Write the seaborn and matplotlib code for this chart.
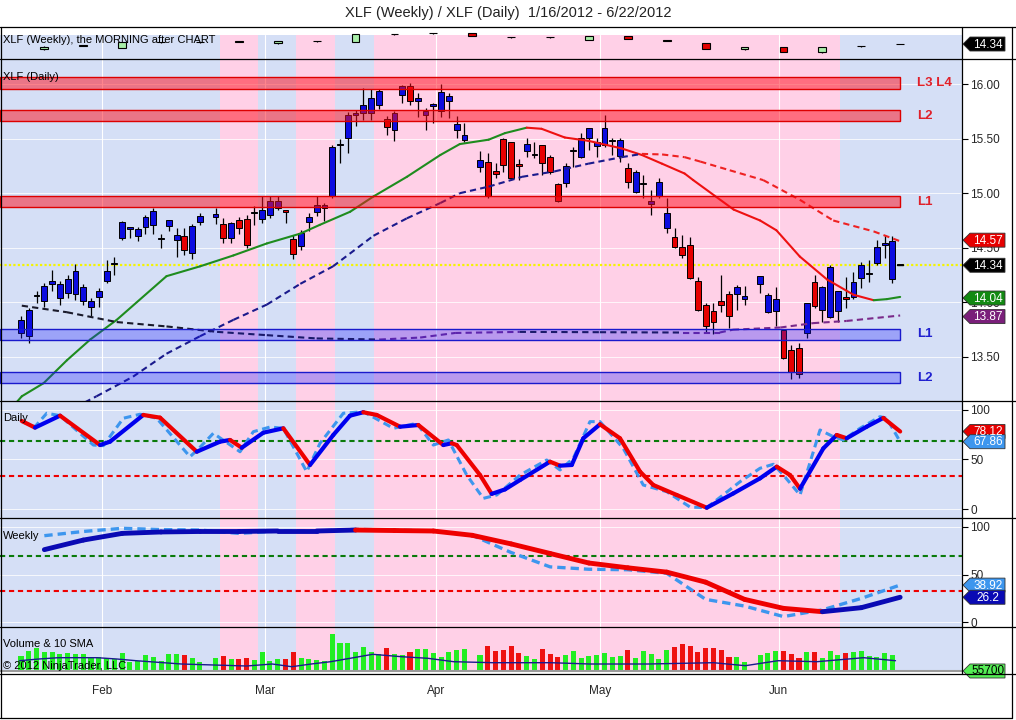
import numpy as np
import pandas as pd
import seaborn as sns
import matplotlib.pyplot as plt
import matplotlib.transforms as mtransforms
from matplotlib.lines import Line2D
from matplotlib.patches import Polygon, Rectangle

sns.set_theme(style="white")
plt.rcParams["font.family"] = ["Liberation Sans", "DejaVu Sans"]

# Every weekday gets a slot on the x axis, market holidays stay empty
weekdays = pd.bdate_range("2012-01-16", "2012-06-22")
holidays = pd.to_datetime(["2012-01-16", "2012-02-20", "2012-04-06", "2012-05-28"])
trade_days = weekdays[~weekdays.isin(holidays)]
day_x = np.array([weekdays.get_loc(d) for d in trade_days], dtype=float)
fridays = weekdays[weekdays.dayofweek == 4]
week_x = np.array([weekdays.get_loc(d) for d in fridays], dtype=float)

# Daily XLF candles
opens = [13.72, 13.69, 14.06, 14.01, 14.17, 14.04, 14.09, 14.08, 14.01, 13.96, 14.05,
         14.20, 14.35, 14.59, 14.67, 14.61, 14.69, 14.71, 14.58, 14.70, 14.57, 14.61, 14.45, 14.74,
         14.78, 14.72, 14.59, 14.75, 14.76, 14.82, 14.76,
         14.80, 14.86, 14.85, 14.58, 14.52, 14.74, 14.83, 14.86, 14.97, 15.44, 15.51, 15.72, 15.73,
         15.73, 15.81, 15.68, 15.58, 15.90, 15.98, 15.84, 15.72, 15.80,
         15.75, 15.84, 15.58, 15.49, 15.24, 15.29, 15.20, 15.50, 15.47, 15.27, 15.39, 15.35, 15.44,
         15.33, 15.08, 15.09, 15.39, 15.33, 15.51, 15.43,
         15.44, 15.48, 15.34, 15.23, 15.01, 15.08, 14.90, 14.97, 14.68, 14.60, 14.51, 14.53, 14.20,
         13.98, 13.92, 14.01, 14.08, 14.08, 14.03, 14.17, 13.91, 13.92,
         13.75, 13.56, 13.58, 13.72, 14.19, 13.93, 13.87, 13.92, 14.05, 14.05, 14.22, 14.26, 14.36,
         14.53, 14.21, 14.34]
highs = [13.88, 13.95, 14.10, 14.18, 14.30, 14.20, 14.25, 14.35, 14.17, 14.04, 14.13,
         14.39, 14.42, 14.75, 14.69, 14.69, 14.80, 14.86, 14.63, 14.75, 14.68, 14.68, 14.72, 14.82,
         14.86, 14.77, 14.74, 14.78, 14.80, 14.88, 14.97,
         14.97, 14.97, 14.85, 14.62, 14.66, 14.82, 14.97, 14.91, 15.44, 15.50, 15.74, 15.76, 15.96,
         15.95, 15.95, 15.71, 15.75, 15.99, 16.01, 15.92, 15.78, 15.83,
         16.00, 15.92, 15.71, 15.64, 15.39, 15.37, 15.28, 15.51, 15.47, 15.31, 15.51, 15.47, 15.44,
         15.35, 15.09, 15.28, 15.42, 15.55, 15.60, 15.51,
         15.72, 15.51, 15.51, 15.28, 15.21, 15.17, 15.03, 15.14, 14.96, 14.68, 14.62, 14.60, 14.23,
         13.99, 13.99, 14.25, 14.10, 14.16, 14.15, 14.24, 14.09, 14.14,
         13.75, 13.61, 13.63, 13.99, 14.25, 14.15, 14.34, 14.10, 14.23, 14.28, 14.37, 14.39, 14.57,
         14.62, 14.61, 14.34]
lows = [13.67, 13.63, 13.99, 13.96, 14.10, 13.98, 14.04, 14.02, 13.98, 13.88, 13.96,
        14.18, 14.25, 14.57, 14.59, 14.56, 14.63, 14.63, 14.50, 14.65, 14.42, 14.43, 14.40, 14.71,
        14.72, 14.54, 14.54, 14.63, 14.50, 14.71, 14.73,
        14.77, 14.85, 14.73, 14.40, 14.48, 14.65, 14.79, 14.75, 14.96, 15.28, 15.37, 15.62, 15.67,
        15.67, 15.77, 15.53, 15.48, 15.83, 15.81, 15.70, 15.58, 15.64,
        15.70, 15.69, 15.51, 15.47, 15.19, 14.96, 15.14, 15.19, 15.12, 15.12, 15.33, 15.32, 15.17,
        15.18, 14.92, 15.06, 15.24, 15.32, 15.40, 15.33,
        15.42, 15.35, 15.29, 15.05, 15.00, 14.96, 14.80, 14.96, 14.64, 14.50, 14.41, 14.21, 13.92,
        13.72, 13.71, 13.91, 13.77, 13.93, 13.98, 14.09, 13.90, 13.78,
        13.48, 13.30, 13.31, 13.67, 13.95, 13.82, 13.86, 13.82, 13.95, 14.03, 14.13, 14.19, 14.34,
        14.41, 14.18, 14.34]
closes = [13.84, 13.93, 14.07, 14.15, 14.20, 14.17, 14.21, 14.29, 14.14, 14.01, 14.10,
          14.29, 14.36, 14.74, 14.69, 14.67, 14.78, 14.84, 14.59, 14.75, 14.62, 14.48, 14.70, 14.79,
          14.81, 14.59, 14.73, 14.68, 14.53, 14.83, 14.85,
          14.93, 14.93, 14.83, 14.44, 14.64, 14.78, 14.89, 14.89, 15.42, 15.45, 15.72, 15.73, 15.81,
          15.87, 15.94, 15.61, 15.73, 15.98, 15.84, 15.87, 15.75, 15.82,
          15.93, 15.89, 15.63, 15.53, 15.30, 14.97, 15.18, 15.26, 15.14, 15.25, 15.45, 15.36, 15.28,
          15.19, 14.93, 15.25, 15.40, 15.51, 15.60, 15.47,
          15.60, 15.49, 15.49, 15.10, 15.19, 15.09, 14.93, 15.10, 14.82, 14.51, 14.43, 14.22, 13.93,
          13.78, 13.82, 13.98, 13.88, 14.14, 14.06, 14.24, 14.07, 14.03,
          13.49, 13.36, 13.34, 13.99, 13.97, 14.14, 14.32, 14.10, 14.03, 14.19, 14.34, 14.27, 14.51,
          14.54, 14.56, 14.34]

# Daily volume, millions of shares
volume = [75, 100, 114, 97, 93, 84, 89, 87, 87, 67, 72,
          67, 58, 92, 47, 52, 80, 72, 52, 84, 84, 80, 67, 47,
          67, 75, 58, 58, 67, 55, 97,
          52, 60, 60, 97, 67, 60, 55, 50, 185, 142, 142, 97, 118, 97, 85, 113, 84, 80, 93, 110, 110, 88,
          72, 93, 105, 108, 80, 125, 100, 105, 125, 90, 75, 60, 110, 85, 70, 80, 100, 65, 75, 80,
          90, 70, 75, 105, 65, 100, 85, 60, 105, 120, 135, 127, 97, 113, 113, 105, 72, 72, 47, 80, 90, 100,
          100, 85, 65, 95, 95, 65, 100, 80, 90, 95, 100, 75, 70, 90, 80, 0.0557]
vol_sma_x = [0.8, 3.3, 5.8, 10.8, 13.3, 15.8, 21.6, 25.8, 30.0, 33.3, 35.8, 38.3, 40.8, 43.3,
             46.2, 49.9, 53.3, 56.6, 61.6, 69.1, 74.1, 81.6, 90.0, 94.1, 98.3, 103.3, 109.3, 113.4]
vol_sma = [51.5, 60, 66.5, 66.5, 60, 51.5, 35, 30, 25, 35, 21.5, 35, 46.5, 63.5,
           83.5, 71.5, 63.5, 46.5, 41.5, 41.5, 35, 35, 41.5, 26.5, 51.5, 46.5, 66.5, 51.5]

# Weekly candles (mini panel at the top)
wk_open = [13.63, 14.10, 13.85, 14.58, 14.55, 14.68, 14.43, 14.72, 14.65, 15.66, 15.76, 15.77,
           15.25, 15.23, 14.87, 15.41, 14.79, 14.51, 13.63, 13.98, 13.23, 14.07, 14.30]
wk_high = [14.02, 14.15, 14.60, 14.62, 14.60, 14.70, 14.76, 14.80, 15.66, 15.72, 15.82, 15.80,
           15.28, 15.28, 15.44, 15.44, 14.85, 14.54, 13.96, 14.00, 14.00, 14.09, 14.36]
wk_low = [13.60, 14.05, 13.82, 14.50, 14.48, 14.62, 14.40, 14.60, 14.62, 15.60, 15.72, 15.38,
          15.18, 15.20, 14.85, 14.98, 14.70, 13.64, 13.60, 13.28, 13.20, 13.90, 14.28]
wk_close = [13.98, 14.12, 14.57, 14.55, 14.58, 14.65, 14.74, 14.70, 15.63, 15.68, 15.78, 15.41,
            15.23, 15.25, 15.41, 15.01, 14.77, 13.67, 13.94, 13.31, 13.98, 14.05, 14.32]

# Moving averages on the price panel
ma_fast_x = [0.0, 1.1, 3.9, 6.9, 9.9, 13.3, 19.7, 24.0, 28.3, 32.6, 36.9, 39.4, 43.3, 46.3, 50.6,
             54.9, 57.4, 61.1, 63.2, 66.0, 67.9, 70.9, 73.9, 78.2, 80.8, 83.4, 86.3, 87.4, 92.6,
             96.0, 98.1, 101.1, 104.6, 108.0, 110.6, 112.3, 114.0]
ma_fast = [13.05, 13.14, 13.26, 13.47, 13.66, 13.84, 14.24, 14.33, 14.43, 14.54, 14.63, 14.71,
           14.83, 14.97, 15.15, 15.35, 15.45, 15.49, 15.55, 15.60, 15.59, 15.51, 15.48, 15.41,
           15.35, 15.27, 15.18, 15.12, 14.85, 14.75, 14.66, 14.42, 14.21, 14.07, 14.02, 14.03, 14.05]
ma_mid_x = [8.0, 10.7, 15.4, 19.7, 24.0, 28.3, 32.6, 36.9, 41.1, 46.3, 50.6, 54.9, 57.4, 61.1,
            65.4, 69.6, 73.9, 78.2, 80.8, 83.4, 86.3, 88.3, 92.1, 96.4, 101.1, 105.4, 110.6, 114.0]
ma_mid = [13.04, 13.14, 13.32, 13.53, 13.69, 13.84, 13.98, 14.17, 14.33, 14.61, 14.77, 14.91,
          15.00, 15.06, 15.15, 15.20, 15.27, 15.33, 15.36, 15.355, 15.33, 15.29, 15.21, 15.12,
          14.94, 14.75, 14.65, 14.56]
ma_slow_x = [1.1, 6.9, 13.3, 19.7, 26.2, 32.6, 39.0, 47.1, 52.3, 56.8, 65.1, 75.4, 86.1, 90.8,
             92.5, 98.6, 102.8, 107.1, 114.0]
ma_slow = [13.97, 13.91, 13.82, 13.78, 13.73, 13.70, 13.67, 13.66, 13.678, 13.72, 13.73, 13.727,
           13.724, 13.724, 13.75, 13.77, 13.81, 13.83, 13.88]

# Support / resistance bands (low, high)
red_bands = [(15.95, 16.06, "L3 L4"), (15.66, 15.76, "L2"), (14.87, 14.97, "L1")]
blue_bands = [(13.66, 13.76, "L1"), (13.26, 13.36, "L2")]
last_price = 14.34

# Daily stochastics
std_x = [1.09, 2.80, 6.02, 11.16, 12.44, 16.72, 18.87, 23.59, 26.58, 27.87, 29.37, 32.15, 34.72,
         38.15, 41.14, 43.29, 45.00, 46.72, 49.72, 52.07, 55.28, 56.36, 57.00, 60.00, 61.50,
         63.21, 65.14, 68.99, 70.28, 71.79, 73.28, 75.42, 77.99, 80.57, 82.27, 85.28, 89.14,
         92.56, 95.99, 98.14, 99.85, 101.13, 104.13, 105.85, 107.13, 109.70, 111.84, 114.00]
std_d = [88.7, 82, 94, 64.5, 67.9, 94.7, 92, 57.8, 67.9, 69.6, 61.8, 76.9, 81.3, 44.5, 74.6, 94,
         97.4, 94.7, 82.9, 84.6, 64.5, 66.3, 64.5, 34.4, 15.5, 20, 29.4, 47.8, 43.8, 44.5, 71.3,
         85.3, 71.3, 37.8, 24.4, 14.4, 1.6, 16, 31.1, 42.8, 34.4, 20.7, 61.2, 74.6, 71.3, 82.9,
         91.7, 78.1]
stk_x = [1.09, 2.80, 4.31, 6.02, 10.30, 11.58, 14.15, 16.30, 18.44, 22.72, 23.79, 25.72, 29.15,
         30.86, 33.01, 34.72, 37.72, 39.43, 42.43, 45.00, 48.86, 51.86, 54.00, 55.93, 58.29,
         60.42, 62.15, 65.14, 68.57, 70.28, 71.99, 74.13, 75.42, 78.41, 80.98, 84.00, 86.99,
         89.14, 93.42, 95.99, 97.70, 98.99, 101.13, 103.70, 105.41, 106.70, 108.84, 111.41,
         112.27, 114.00]
stk_k = [88, 83, 96.4, 94, 64.5, 63.9, 91.4, 95.4, 91.4, 52.8, 60.5, 76.3, 57.8, 77.9, 82.6,
         81.3, 37.8, 66.3, 96.4, 98, 81.3, 86.3, 64.5, 69.6, 34.4, 11, 14.4, 34.4, 49.5, 39.5,
         51.2, 88, 88, 61.2, 24.4, 17.7, 2.3, 1.6, 27.7, 41.2, 45.2, 34.4, 14.4, 79.6, 72.9, 69.6,
         81.3, 93, 91.4, 67.9]

# Weekly stochastics, one value per week
wst_d = [76, 86, 93, 94.5, 95, 95, 95.5, 95.5, 96.5, 96, 95.5, 91, 82, 72, 62, 57, 52.5, 42, 24,
         14.6, 11.1, 15.3, 26.2]
wst_k = [90.6, 95, 98.3, 97, 96.5, 93, 95.5, 95.5, 97.3, 96.5, 95.5, 91, 73, 58, 55.5, 55, 51.3,
         24, 17, 6, 13, 25, 39]
stoch_high, stoch_low = 69, 33

# shading of the background by week (weekday slots)
pink_spans = [(26.6, 31.5), (36.4, 41.4), (46.4, 106.3)]
BLUE_BG = "#d5dff6"
PINK_BG = "#ffd0e7"
UP_BLUE = "#0c0ce0"
DOWN_RED = "#e60000"

W, H = 1016, 720
XMIN, XMAX = -1.70, 121.95
fig = plt.figure(figsize=(W / 100, H / 100), dpi=100)
fig.patch.set_facecolor("white")


def add_panel(top, bottom):
    ax = fig.add_axes([0, 1 - bottom / H, 962 / W, (bottom - top) / H])
    ax.set_xlim(XMIN, XMAX)
    for s in ax.spines.values():
        s.set_visible(False)
    ax.set_xticks([])
    ax.tick_params(axis="y", left=False, labelleft=False, right=True, labelright=True,
                   length=4, width=0.8, color="black", direction="out", pad=2, labelsize=8.5)
    return ax


def shade(ax, ymin=0.0, ymax=1.0):
    ax.set_facecolor("white")
    ax.axvspan(XMIN, XMAX, ymin=ymin, ymax=ymax, color=BLUE_BG, lw=0, zorder=0)
    for a, b in pink_spans:
        ax.axvspan(a, b, ymin=ymin, ymax=ymax, color=PINK_BG, lw=0, zorder=0.1)


def slope_line(ax, xs, ys, up, down, lw, dash=None, z=4):
    for i in range(len(xs) - 1):
        c = up if ys[i + 1] >= ys[i] else down
        ln, = ax.plot(xs[i:i + 2], ys[i:i + 2], color=c, lw=lw, zorder=z,
                      solid_capstyle="round", dash_capstyle="butt")
        if dash:
            ln.set_dashes(dash)


def add_tag(ax, value, text, fc, tc="white"):
    anchor = mtransforms.ScaledTranslation(1.0, value, ax.get_yaxis_transform())
    verts = [(1, 0), (8, 7), (43, 7), (43, -7), (8, -7)]
    ax.add_patch(Polygon(verts, closed=True, transform=anchor, fc=fc, ec="#333333", lw=0.6,
                         clip_on=False, zorder=20))
    ax.text(26, -0.5, text, transform=anchor, ha="center", va="center", color=tc,
            fontsize=8.5, clip_on=False, zorder=21)


def candles(ax, xs, o, h, l, c, width, up, down, z=3):
    o, h, l, c = map(np.asarray, (o, h, l, c))
    ax.vlines(xs, l, h, color="black", lw=0.9, zorder=z)
    body_lo = np.minimum(o, c)
    body_h = np.maximum(np.abs(c - o), 0.008)
    cols = [up if cc >= oo else down for oo, cc in zip(o, c)]
    ax.bar(xs, body_h, bottom=body_lo, width=width, color=cols, edgecolor="black",
           linewidth=0.7, zorder=z + 0.1)


month_starts = [trade_days[trade_days.month == m][0] for m in [2, 3, 4, 5, 6]]
month_x = [weekdays.get_loc(d) - 0.6 for d in month_starts]
month_labels = ["Feb", "Mar", "Apr", "May", "Jun"]

# ---- weekly mini panel ----
ax_w = add_panel(27, 59)
shade(ax_w, ymax=0.75)
ax_w.set_ylim(12.34, 16.61)
ax_w.set_yticks([])
for mx in month_x:
    ax_w.axvline(mx, ymax=0.75, color="white", lw=0.8, zorder=0.5)
wk_cols = ["#a8eea8" if c >= o else DOWN_RED for o, c in zip(wk_open, wk_close)]
ax_w.vlines(week_x, wk_low, wk_high, color="black", lw=0.9, zorder=3)
ax_w.bar(week_x, np.maximum(np.abs(np.array(wk_close) - np.array(wk_open)), 0.06),
         bottom=np.minimum(wk_open, wk_close), width=1.0, color=wk_cols, edgecolor="black",
         linewidth=0.8, zorder=3.1)
add_tag(ax_w, last_price, "14.34", "black")

# ---- daily price panel ----
ax_p = add_panel(59, 401)
shade(ax_p)
ax_p.set_ylim(13.097, 16.229)
price_ticks = [13.5, 14.0, 14.5, 15.0, 15.5, 16.0]
ax_p.set_yticks(price_ticks)
ax_p.set_yticklabels([f"{t:.2f}" for t in price_ticks])
for t in price_ticks:
    ax_p.axhline(t, color="white", lw=0.7, alpha=0.8, zorder=0.5)
for mx in month_x:
    ax_p.axvline(mx, color="white", lw=0.8, zorder=0.5)
ax_p.axhline(last_price, color="#f5f500", lw=1.6, dashes=(1, 1), zorder=1)

candles(ax_p, day_x, opens, highs, lows, closes, 0.75, UP_BLUE, DOWN_RED)
slope_line(ax_p, ma_fast_x, ma_fast, "#1e8c1e", "#ee1111", 1.5, z=4)
slope_line(ax_p, ma_mid_x, ma_mid, "#1a1a8c", "#ee2222", 1.5, dash=(3, 2), z=4)
slope_line(ax_p, ma_slow_x, ma_slow, "#7a2a8a", "#1a1a2a", 1.5, dash=(3, 2), z=4)

band_right = 114.0
for lo, hi, name in red_bands:
    ax_p.add_patch(Rectangle((XMIN, lo), band_right - XMIN, hi - lo, fc=(1, 0.05, 0.1, 0.5),
                             ec="#dd0000", lw=1.0, zorder=6))
    ax_p.text(917 / 962, (lo + hi) / 2, name, transform=ax_p.get_yaxis_transform(),
              color="#e0202a", fontsize=9.5, fontweight="bold", va="center", ha="left", zorder=7)
for lo, hi, name in blue_bands:
    ax_p.add_patch(Rectangle((XMIN, lo), band_right - XMIN, hi - lo, fc=(0.1, 0.1, 1.0, 0.3),
                             ec="#1a1acc", lw=1.0, zorder=6))
    ax_p.text(917 / 962, (lo + hi) / 2, name, transform=ax_p.get_yaxis_transform(),
              color="#2020d0", fontsize=9.5, fontweight="bold", va="center", ha="left", zorder=7)
ax_p.plot([day_x[-1] - 0.4, day_x[-1] + 0.4], [last_price, last_price], color="black", lw=1,
          zorder=5)

add_tag(ax_p, 14.57, "14.57", "#e60000")
add_tag(ax_p, 14.34, "14.34", "black")
add_tag(ax_p, 14.04, "14.04", "#128a12")
add_tag(ax_p, 13.87, "13.87", "#7a1f7a")

# ---- daily stochastics ----
ax_d = add_panel(401, 518)
shade(ax_d)
ax_d.set_ylim(-8.7, 108.7)
ax_d.set_yticks([0, 50, 100])
for t in [0, 50, 100]:
    ax_d.axhline(t, color="white", lw=0.7, alpha=0.8, zorder=0.5)
for mx in month_x:
    ax_d.axvline(mx, color="white", lw=0.8, zorder=0.5)
ax_d.axhline(stoch_high, color="#0a7a0a", lw=1.5, dashes=(2.5, 1.8), zorder=2)
ax_d.axhline(stoch_low, color="#ee0000", lw=1.5, dashes=(2.5, 1.8), zorder=2)
sns.lineplot(x=stk_x, y=stk_k, ax=ax_d, color="#3d96ee", linewidth=2.2, zorder=4, legend=False)
ax_d.lines[-1].set_dashes((2.5, 1.5))
slope_line(ax_d, std_x, std_d, "#0000ee", "#ee0000", 3.0, z=5)
ax_d.set_xlim(XMIN, XMAX)
ax_d.set_xlabel("")
ax_d.set_ylabel("")
add_tag(ax_d, 78.12, "78.12", "#e60000")
add_tag(ax_d, 67.86, "67.86", "#3d96ee")

# ---- weekly stochastics ----
ax_ws = add_panel(518, 627)
shade(ax_ws)
ax_ws.set_ylim(-4.9, 109.1)
ax_ws.set_yticks([0, 50, 100])
for t in [0, 50, 100]:
    ax_ws.axhline(t, color="white", lw=0.7, alpha=0.8, zorder=0.5)
for mx in month_x:
    ax_ws.axvline(mx, color="white", lw=0.8, zorder=0.5)
ax_ws.axhline(stoch_high, color="#0a7a0a", lw=1.5, dashes=(2.5, 1.8), zorder=2)
ax_ws.axhline(stoch_low, color="#ee0000", lw=1.5, dashes=(2.5, 1.8), zorder=2)
sns.lineplot(x=week_x, y=wst_k, ax=ax_ws, color="#3d96ee", linewidth=2.4, zorder=4, legend=False)
ax_ws.lines[-1].set_dashes((2.5, 1.5))
slope_line(ax_ws, week_x, wst_d, "#0a0ab4", "#ee0000", 3.5, z=5)
ax_ws.set_xlim(XMIN, XMAX)
ax_ws.set_xlabel("")
ax_ws.set_ylabel("")
add_tag(ax_ws, 38.92, "38.92", "#3d96ee")
add_tag(ax_ws, 26.2, "26.2", "#0a0ab4")

# ---- volume ----
ax_v = add_panel(627, 674)
shade(ax_v, ymin=3.0 / 47)
ax_v.set_ylim(-15, 220)
ax_v.set_yticks([])
for mx in month_x:
    ax_v.axvline(mx, color="white", lw=0.8, zorder=0.5)
vol_cols = ["#22ee22" if c >= o else "#ee1111" for o, c in zip(opens, closes)]
ax_v.bar(day_x, volume, width=0.65, color=vol_cols, lw=0, zorder=3)
ax_v.axhline(0, color="#9a9a9a", lw=1.5, zorder=3.5)
sns.lineplot(x=vol_sma_x, y=vol_sma, ax=ax_v, color="#1a1a8c", linewidth=1.0, zorder=4,
             legend=False)
ax_v.set_xlim(XMIN, XMAX)
ax_v.set_xlabel("")
ax_v.set_ylabel("")
ax_v.set_xticks(month_x)
ax_v.set_xticklabels(month_labels)
ax_v.tick_params(axis="x", bottom=True, length=0, pad=8, labelsize=8.5)
add_tag(ax_v, 0.0557, "55700", "#55ee55", tc="black")

# ---- frame and text ----
def hline(y, x0=0, x1=W):
    fig.add_artist(Line2D([x0 / W, x1 / W], [1 - y / H, 1 - y / H], color="black", lw=0.9,
                          transform=fig.transFigure))


def vline(x, y0, y1):
    fig.add_artist(Line2D([x / W, x / W], [1 - y0 / H, 1 - y1 / H], color="black", lw=0.9,
                          transform=fig.transFigure))


for y in [27, 59, 401, 518, 627, 674]:
    hline(y)
hline(718, 0, 1012)
vline(0.5, 27, 718)
vline(962, 27, 674)
vline(1012, 27, 718)

fig.text(0.5, 1 - 13 / H, "XLF (Weekly) / XLF (Daily)  1/16/2012 - 6/22/2012", ha="center",
         va="center", fontsize=10.5, color="#222222")
for txt, y in [("XLF (Weekly), the MORNING after CHART", 40), ("XLF (Daily)", 77),
               ("Daily", 418), ("Weekly", 536), ("Volume & 10 SMA", 644),
               ("\u00a9 2012 NinjaTrader, LLC", 666)]:
    fig.text(3 / W, 1 - y / H, txt, ha="left", va="center", fontsize=8, color="black",
             zorder=30)

fig.savefig("out.png", dpi=100)
